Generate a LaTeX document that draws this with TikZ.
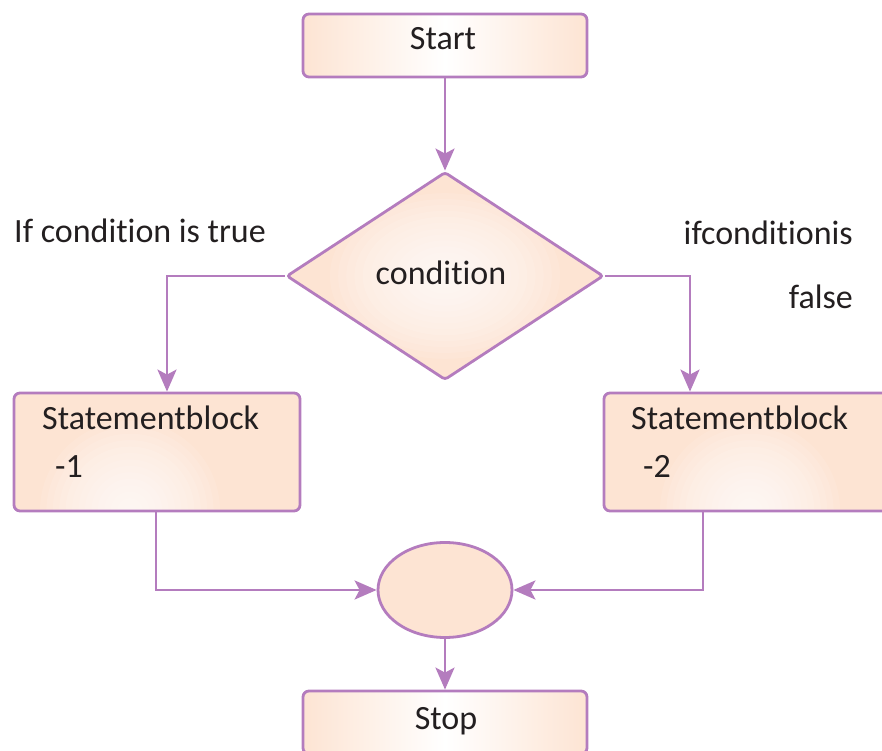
\documentclass[tikz,border=0pt]{standalone}
\usepackage{fontspec}
\setmainfont{Carlito}[Ligatures=NoCommon]
\usetikzlibrary{shapes.geometric,arrows.meta}
\definecolor{edge}{HTML}{B47CBE}
\definecolor{peach}{HTML}{FDE4D3}
\definecolor{ink}{HTML}{231F20}
\begin{document}
\begin{tikzpicture}[x=1pt,y=1pt,
  flow/.style={draw=edge,line width=2.8pt},
  box/.style={flow,rectangle,rounded corners=6pt,inner sep=0pt},
  hbox/.style={box,left color=peach,right color=peach,middle color=white},
  link/.style={draw=edge,line width=2.8pt,-{Stealth[length=22pt,width=19pt,inset=5pt]}},
  txt/.style={text=ink,font=\fontsize{34}{40}\selectfont,inner sep=0pt},
  % soft white glow built from stacked translucent discs
  glow/.style args={#1/#2/#3}{path picture={
      \foreach \k in {1,...,14}
        \fill[white,opacity=0.11]
          ([xshift=#1]path picture bounding box.#2)
          ellipse ({#3*\k/14} and {#3*\k/14*0.72});}},
  roundglow/.style args={#1/#2}{path picture={
      \foreach \k in {1,...,14}
        \fill[white,opacity=0.11]
          ([xshift=#1]path picture bounding box.south)
          circle ({#2*\k/14});}}]
\useasboundingbox (0,0) rectangle (882,751);

% terminals
\node[hbox,minimum width=284pt,minimum height=63pt] (start) at (445,705.5) {};
\node[hbox,minimum width=284pt,minimum height=63pt] (stop) at (445,28.5) {};

% decision
\node[flow,diamond,rounded corners=3pt,inner sep=0pt,fill=peach,
      minimum width=317pt,minimum height=208pt,glow={0pt/center/115pt}]
      (cond) at (445,475) {};

% statement blocks with a soft glow near the bottom edge
\node[box,fill=peach,minimum width=286pt,minimum height=118pt,
      roundglow={-27pt/90pt}] (blk1) at (157,299) {};
\node[box,fill=peach,minimum width=286pt,minimum height=118pt,
      roundglow={3pt/90pt}] (blk2) at (747,299) {};

% junction
\node[flow,ellipse,fill=peach,inner sep=0pt,
      minimum width=134pt,minimum height=95pt] (join) at (445,161) {};

% texts
\node[txt,anchor=base] (tstart) at (443,701) {Start};
\node[txt,anchor=base] (tstop) at (446,21) {Stop};
\node[txt,anchor=base] (tcond) at (441,466) {condition};
\node[txt,anchor=base west] (b1a) at (42,321) {Statementblock};
\node[txt,anchor=base west] (b1b) at (55,273) {-1};
\node[txt,anchor=base west] (b2a) at (631,321) {Statementblock};
\node[txt,anchor=base west] (b2b) at (643,273) {-2};
\node[txt,anchor=base west] (ltrue) at (14,508) {If condition is true};
\node[txt,anchor=base east] (lfalse1) at (853,506) {ifconditionis};
\node[txt,anchor=base east] (lfalse2) at (853,442) {false};

% connectors
\draw[link] (start) -- (cond);
\draw[link] (cond.west) -| ([xshift=10pt]blk1.north);
\draw[link] (cond.east) -| ([xshift=-57pt]blk2.north);
\draw[link] ([xshift=-1pt]blk1.south) |- (join.west);
\draw[link] ([xshift=-44pt]blk2.south) |- (join.east);
\draw[link] (join) -- (stop);
\end{tikzpicture}
\end{document}
